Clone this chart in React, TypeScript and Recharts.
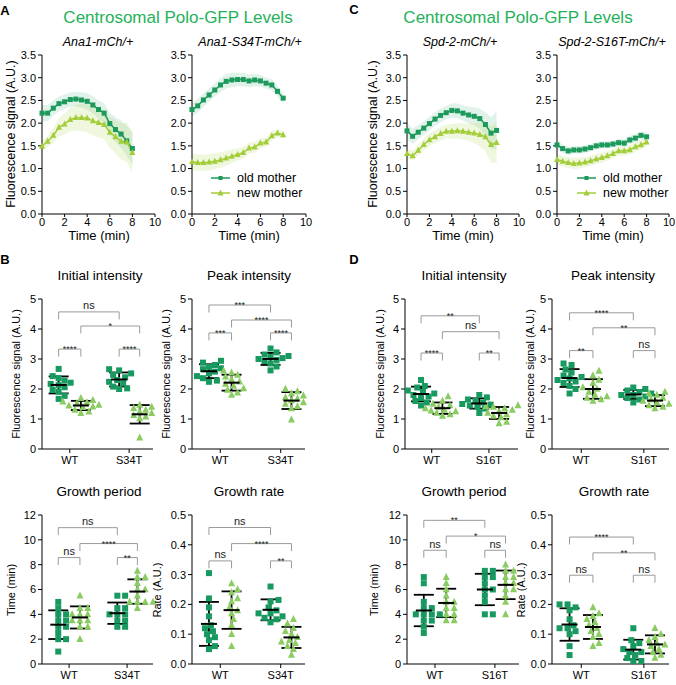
import React from "react";
import {
  ComposedChart,
  Area,
  Line,
  XAxis,
  YAxis,
  ScatterChart,
  Scatter,
  ErrorBar,
  ReferenceLine,
} from "recharts";

const FONT = '"Liberation Sans", Arial, Helvetica, sans-serif';
const OLD_LINE = "#1b9a5b";
const NEW_LINE = "#a3cd39";
const OLD_DOT = "#17995f";
const NEW_DOT = "#8acb62";
const TITLE = "#1fb25a";
const BRACKET = "#9a9a9a";

// time courses (min)
const time = [0, 0.5, 1, 1.5, 2, 2.5, 3, 3.5, 4, 4.5, 5, 5.5, 6, 6.5, 7, 7.5, 8];

const ana1WtOld = [2.22, 2.22, 2.33, 2.43, 2.47, 2.52, 2.53, 2.51, 2.48, 2.4, 2.3, 2.22, 1.99, 1.86, 1.76, 1.61, 1.44];
const ana1WtOldErr = [0.18, 0.18, 0.17, 0.16, 0.16, 0.16, 0.16, 0.17, 0.18, 0.19, 0.2, 0.22, 0.24, 0.27, 0.3, 0.33, 0.36];
const ana1WtNew = [1.49, 1.6, 1.73, 1.91, 1.98, 2.08, 2.12, 2.12, 2.11, 2.05, 2.01, 1.97, 1.8, 1.7, 1.6, 1.58, 1.35];
const ana1WtNewErr = [0.1, 0.12, 0.16, 0.2, 0.23, 0.26, 0.28, 0.3, 0.31, 0.32, 0.32, 0.32, 0.34, 0.37, 0.4, 0.43, 0.45];

const ana1MutOld = [2.3, 2.38, 2.51, 2.62, 2.73, 2.84, 2.92, 2.95, 2.96, 2.96, 2.93, 2.95, 2.93, 2.88, 2.84, 2.7, 2.55];
const ana1MutOldErr = [0.15, 0.15, 0.15, 0.15, 0.15, 0.16, 0.16, 0.16, 0.15, 0.15, 0.14, 0.14, 0.13, 0.12, 0.12, 0.12, 0.12];
const ana1MutNew = [1.15, 1.13, 1.13, 1.14, 1.16, 1.19, 1.23, 1.27, 1.31, 1.35, 1.45, 1.47, 1.56, 1.58, 1.72, 1.78, 1.74];
const ana1MutNewErr = [0.18, 0.18, 0.18, 0.18, 0.17, 0.17, 0.16, 0.15, 0.14, 0.13, 0.12, 0.12, 0.11, 0.1, 0.1, 0.09, 0.08];

const spd2WtOld = [1.83, 1.71, 1.8, 1.89, 1.99, 2.09, 2.17, 2.23, 2.28, 2.27, 2.22, 2.18, 2.15, 2.1, 1.97, 1.78, 1.84];
const spd2WtOldErr = [0.18, 0.17, 0.16, 0.15, 0.15, 0.15, 0.15, 0.15, 0.16, 0.16, 0.17, 0.18, 0.2, 0.22, 0.27, 0.35, 0.42];
const spd2WtNew = [1.33, 1.28, 1.4, 1.53, 1.63, 1.7, 1.77, 1.82, 1.82, 1.83, 1.82, 1.8, 1.78, 1.75, 1.7, 1.53, 1.57];
const spd2WtNewErr = [0.1, 0.11, 0.12, 0.13, 0.14, 0.15, 0.15, 0.15, 0.16, 0.17, 0.18, 0.19, 0.22, 0.26, 0.32, 0.4, 0.45];

const spd2MutOld = [1.52, 1.44, 1.39, 1.41, 1.41, 1.43, 1.46, 1.5, 1.52, 1.52, 1.54, 1.57, 1.56, 1.63, 1.67, 1.73, 1.7];
const spd2MutOldErr = [0.1, 0.09, 0.09, 0.08, 0.08, 0.08, 0.08, 0.08, 0.08, 0.08, 0.08, 0.08, 0.08, 0.09, 0.09, 0.09, 0.1];
const spd2MutNew = [1.2, 1.16, 1.13, 1.11, 1.12, 1.14, 1.17, 1.21, 1.24, 1.28, 1.33, 1.39, 1.39, 1.41, 1.48, 1.52, 1.58];
const spd2MutNewErr = [0.12, 0.12, 0.12, 0.12, 0.12, 0.11, 0.11, 0.11, 0.11, 0.1, 0.1, 0.1, 0.1, 0.1, 0.1, 0.1, 0.1];

// per-embryo measurements: [WT old, WT new, mutant old, mutant new]
const ana1InitWtOld = [2.67, 2.43, 2.36, 2.28, 2.21, 2.17, 2.13, 2.06, 1.97, 1.91, 1.77, 1.67];
const ana1InitWtNew = [1.69, 1.63, 1.58, 1.55, 1.52, 1.47, 1.44, 1.41, 1.39, 1.3, 1.24, 1.19];
const ana1InitMutOld = [2.66, 2.62, 2.52, 2.47, 2.39, 2.3, 2.24, 2.19, 2.08, 2.02, 2.0];
const ana1InitMutNew = [1.47, 1.4, 1.36, 1.3, 1.24, 1.19, 1.13, 1.08, 1.02, 0.38];

const ana1PeakWtOld = [2.94, 2.88, 2.8, 2.74, 2.69, 2.66, 2.58, 2.52, 2.43, 2.36, 2.28, 2.24];
const ana1PeakWtNew = [2.61, 2.54, 2.47, 2.41, 2.32, 2.24, 2.17, 2.1, 2.02, 1.97, 1.88, 1.8];
const ana1PeakMutOld = [3.35, 3.22, 3.15, 3.1, 3.07, 3.03, 3.0, 2.97, 2.93, 2.85, 2.75, 2.62];
const ana1PeakMutNew = [2.0, 1.92, 1.85, 1.78, 1.72, 1.68, 1.62, 1.55, 1.5, 1.42, 1.35, 0.98];

const ana1PeriodWtOld = [5.0, 4.5, 4.0, 4.0, 3.5, 3.5, 3.0, 3.0, 2.5, 2.0, 2.0, 1.0];
const ana1PeriodWtNew = [5.5, 4.5, 4.5, 4.0, 4.0, 4.0, 3.5, 3.5, 3.5, 3.0, 3.0, 2.0];
const ana1PeriodMutOld = [5.5, 5.5, 4.5, 4.5, 4.0, 4.0, 4.0, 3.5, 3.5, 3.0, 3.0];
const ana1PeriodMutNew = [7.5, 7.0, 7.0, 6.5, 6.0, 6.0, 5.5, 5.0, 5.0, 5.0, 5.0, 4.5];

const ana1RateWtOld = [0.305, 0.22, 0.19, 0.16, 0.13, 0.12, 0.11, 0.1, 0.09, 0.08, 0.06, 0.05];
const ana1RateWtNew = [0.27, 0.25, 0.24, 0.22, 0.21, 0.19, 0.18, 0.17, 0.15, 0.13, 0.1, 0.06];
const ana1RateMutOld = [0.26, 0.215, 0.21, 0.19, 0.18, 0.17, 0.17, 0.16, 0.155, 0.15, 0.14];
const ana1RateMutNew = [0.15, 0.135, 0.12, 0.11, 0.1, 0.09, 0.08, 0.075, 0.07, 0.06, 0.05, 0.03];

const spd2InitWtOld = [2.3, 2.1, 2.05, 1.95, 1.9, 1.85, 1.8, 1.75, 1.7, 1.6, 1.55, 1.45];
const spd2InitWtNew = [1.75, 1.6, 1.5, 1.45, 1.4, 1.35, 1.3, 1.28, 1.25, 1.2, 1.15, 1.1];
const spd2InitMutOld = [1.8, 1.72, 1.65, 1.6, 1.55, 1.5, 1.48, 1.45, 1.4, 1.35, 1.2];
const spd2InitMutNew = [1.45, 1.42, 1.4, 1.35, 1.3, 1.25, 1.2, 1.15, 1.1, 1.05, 0.9, 0.85];

const spd2PeakWtOld = [2.85, 2.8, 2.65, 2.55, 2.45, 2.4, 2.35, 2.3, 2.25, 2.2, 2.1, 2.0, 1.85];
const spd2PeakWtNew = [2.6, 2.45, 2.3, 2.2, 2.05, 2.0, 1.9, 1.8, 1.75, 1.7, 1.65, 1.6];
const spd2PeakMutOld = [2.05, 2.0, 1.95, 1.9, 1.85, 1.8, 1.8, 1.75, 1.7, 1.65, 1.55];
const spd2PeakMutNew = [1.9, 1.85, 1.8, 1.7, 1.65, 1.6, 1.55, 1.5, 1.45, 1.4, 1.35];

const spd2PeriodWtOld = [7.0, 6.5, 5.0, 4.5, 4.5, 4.0, 4.0, 4.0, 4.0, 3.5, 3.5, 3.0, 2.5];
const spd2PeriodWtNew = [7.0, 6.5, 6.0, 5.5, 5.0, 5.0, 4.5, 4.5, 4.0, 4.0, 3.5, 3.5];
const spd2PeriodMutOld = [7.5, 7.5, 7.0, 7.0, 6.5, 6.0, 6.0, 5.5, 5.0, 4.0, 4.0];
const spd2PeriodMutNew = [8.0, 7.5, 7.5, 7.0, 7.0, 6.5, 6.5, 6.0, 6.0, 5.5, 5.0, 4.0];

const spd2RateWtOld = [0.2, 0.2, 0.19, 0.18, 0.15, 0.13, 0.12, 0.12, 0.11, 0.1, 0.06, 0.03];
const spd2RateWtNew = [0.19, 0.17, 0.16, 0.15, 0.14, 0.13, 0.12, 0.11, 0.1, 0.09, 0.07, 0.06];
const spd2RateMutOld = [0.12, 0.08, 0.07, 0.06, 0.05, 0.04, 0.04, 0.03, 0.02, 0.01, 0.01];
const spd2RateMutNew = [0.12, 0.1, 0.09, 0.08, 0.07, 0.065, 0.06, 0.05, 0.04, 0.03, 0.02];

// significance brackets: [group a, group b, height, label]
type Bracket = [number, number, number, string];
const ana1InitSig: Bracket[] = [[0, 2, 4.57, "ns"], [1, 3, 4.1, "*"], [0, 1, 3.33, "****"], [2, 3, 3.33, "****"]];
const ana1PeakSig: Bracket[] = [[0, 2, 4.8, "***"], [1, 3, 4.3, "****"], [0, 1, 3.87, "***"], [2, 3, 3.87, "****"]];
const ana1PeriodSig: Bracket[] = [[0, 2, 10.98, "ns"], [1, 3, 9.7, "****"], [0, 1, 8.57, "ns"], [2, 3, 8.57, "**"]];
const ana1RateSig: Bracket[] = [[0, 2, 0.458, "ns"], [1, 3, 0.404, "****"], [0, 1, 0.346, "ns"], [2, 3, 0.346, "**"]];
const spd2InitSig: Bracket[] = [[0, 2, 4.44, "**"], [1, 3, 3.91, "ns"], [0, 1, 3.2, "****"], [2, 3, 3.2, "**"]];
const spd2PeakSig: Bracket[] = [[0, 2, 4.54, "****"], [1, 3, 4.04, "**"], [0, 1, 3.28, "**"], [2, 3, 3.28, "ns"]];
const spd2PeriodSig: Bracket[] = [[0, 2, 11.57, "**"], [1, 3, 10.3, "*"], [0, 1, 9.16, "ns"], [2, 3, 9.16, "ns"]];
const spd2RateSig: Bracket[] = [[0, 2, 0.426, "****"], [1, 3, 0.373, "**"], [0, 1, 0.298, "ns"], [2, 3, 0.298, "ns"]];

const traceTicks = [0, 0.5, 1, 1.5, 2, 2.5, 3, 3.5];
const intensityTicks = [0, 1, 2, 3, 4, 5];
const periodTicks = [0, 2, 4, 6, 8, 10, 12];
const rateTicks = [0, 0.1, 0.2, 0.3, 0.4, 0.5];

const GROUP_POS = [1.5, 3.5, 6.95, 8.8];
const CAT_POS = [2.5, 7.85];

const tickStyle = { fontSize: 11, fill: "#000", fontFamily: FONT };

function squareDot(color: string, s: number) {
  return (p: any) => (
    <rect key={`s${p.index}`} x={p.cx - s / 2} y={p.cy - s / 2} width={s} height={s} fill={color} />
  );
}

function triangleDot(color: string, s: number) {
  return (p: any) => (
    <polygon
      key={`t${p.index}`}
      points={`${p.cx},${p.cy - s * 0.6} ${p.cx - s / 2},${p.cy + s * 0.4} ${p.cx + s / 2},${p.cy + s * 0.4}`}
      fill={color}
    />
  );
}

interface TraceProps {
  left: number;
  right: number;
  old: number[];
  oldErr: number[];
  young: number[];
  youngErr: number[];
}

function Trace({ left, right, old, oldErr, young, youngErr }: TraceProps) {
  const top = 55;
  const bottom = 214;
  const ml = 38, mt = 8, mr = 10, xh = 24;
  const data = time.map((t, i) => ({
    t,
    old: old[i],
    oldBand: [old[i] - oldErr[i], old[i] + oldErr[i]],
    young: young[i],
    youngBand: [young[i] - youngErr[i], young[i] + youngErr[i]],
  }));
  return (
    <div style={{ position: "absolute", left: left - ml, top: top - mt }}>
      <ComposedChart
        width={right - left + ml + mr}
        height={bottom - top + mt + xh}
        data={data}
        margin={{ top: mt, right: mr, left: 0, bottom: 0 }}
      >
        <XAxis
          dataKey="t"
          type="number"
          domain={[0, 10]}
          ticks={[0, 2, 4, 6, 8, 10]}
          height={xh}
          axisLine={{ stroke: "#000" }}
          tickLine={{ stroke: "#000" }}
          tickSize={3}
          tickMargin={1}
          tick={tickStyle}
        />
        <YAxis
          type="number"
          domain={[0, 3.5]}
          ticks={traceTicks}
          width={ml}
          axisLine={{ stroke: "#000" }}
          tickLine={{ stroke: "#000" }}
          tickSize={4}
          tickMargin={2}
          tick={tickStyle}
          tickFormatter={(v: number) => v.toFixed(1)}
        />
        <Area type="linear" dataKey="oldBand" stroke="none" fill={OLD_LINE} fillOpacity={0.13} isAnimationActive={false} />
        <Area type="linear" dataKey="youngBand" stroke="none" fill={NEW_LINE} fillOpacity={0.17} isAnimationActive={false} />
        <Line type="linear" dataKey="old" stroke={OLD_LINE} strokeWidth={1.5} dot={squareDot(OLD_LINE, 5)} isAnimationActive={false} />
        <Line type="linear" dataKey="young" stroke={NEW_LINE} strokeWidth={1.5} dot={triangleDot(NEW_LINE, 6)} isAnimationActive={false} />
      </ComposedChart>
    </div>
  );
}

function swarm(vals: number[], center: number, pxX: number, pxY: number) {
  const order = vals.map((_, i) => i).sort((a, b) => vals[a] - vals[b]);
  const placed: { x: number; y: number }[] = [];
  const out: { x: number; y: number }[] = new Array(vals.length);
  const gap = 6.2;
  for (const i of order) {
    const y = vals[i];
    let chosen = 0;
    for (let k = 0; k < 40; k++) {
      const off = (k % 2 === 1 ? 1 : -1) * Math.ceil(k / 2) * 2;
      const ok = placed.every(
        (p) => Math.hypot(center * pxX + off - p.x, (y - p.y) * pxY) >= gap,
      );
      if (ok) {
        chosen = off;
        break;
      }
    }
    placed.push({ x: center * pxX + chosen, y });
    out[i] = { x: center + chosen / pxX, y };
  }
  return out;
}

function meanSd(vals: number[]) {
  const m = vals.reduce((a, b) => a + b, 0) / vals.length;
  const v = vals.reduce((a, b) => a + (b - m) * (b - m), 0) / (vals.length - 1);
  return { m, sd: Math.sqrt(v) };
}

function sigLabel(text: string) {
  const stars = text !== "ns";
  return (props: any) => {
    const vb = props.viewBox || {};
    const cx = (vb.x || 0) + (vb.width || 0) / 2;
    return (
      <text
        x={cx}
        y={(vb.y || 0) + (stars ? 3 : -2.5)}
        textAnchor="middle"
        fontSize={stars ? 9 : 11}
        fontFamily={FONT}
        fill="#222"
      >
        {text}
      </text>
    );
  };
}

interface DotPlotProps {
  left: number;
  right: number;
  top: number;
  bottom: number;
  yMax: number;
  yTicks: number[];
  decimals: number;
  cats: string[];
  groups: number[][];
  sig: Bracket[];
}

function DotPlot({ left, right, top, bottom, yMax, yTicks, decimals, cats, groups, sig }: DotPlotProps) {
  const ml = 34, mt = 6, mr = 4, xh = 24;
  const pxX = (right - left) / 10;
  const pxY = (bottom - top) / yMax;
  const leg = yMax * 0.05;
  return (
    <div style={{ position: "absolute", left: left - ml, top: top - mt }}>
      <ScatterChart
        width={right - left + ml + mr}
        height={bottom - top + mt + xh}
        margin={{ top: mt, right: mr, left: 0, bottom: 0 }}
      >
        <XAxis
          dataKey="x"
          type="number"
          domain={[0, 10]}
          ticks={CAT_POS}
          height={xh}
          axisLine={{ stroke: "#000" }}
          tickLine={{ stroke: "#000" }}
          tickSize={4}
          tickMargin={3}
          tick={tickStyle}
          tickFormatter={(v: number) => (v < 5 ? cats[0] : cats[1])}
        />
        <YAxis
          dataKey="y"
          type="number"
          domain={[0, yMax]}
          ticks={yTicks}
          width={ml}
          axisLine={{ stroke: "#000" }}
          tickLine={{ stroke: "#000" }}
          tickSize={4}
          tickMargin={2}
          tick={tickStyle}
          tickFormatter={(v: number) => v.toFixed(decimals)}
        />
        {sig.map(([a, b, y, label], i) => (
          <React.Fragment key={`b${i}`}>
            <ReferenceLine segment={[{ x: GROUP_POS[a], y: y - leg }, { x: GROUP_POS[a], y }]} stroke={BRACKET} />
            <ReferenceLine
              segment={[{ x: GROUP_POS[a], y }, { x: GROUP_POS[b], y }]}
              stroke={BRACKET}
              label={sigLabel(label)}
            />
            <ReferenceLine segment={[{ x: GROUP_POS[b], y }, { x: GROUP_POS[b], y: y - leg }]} stroke={BRACKET} />
          </React.Fragment>
        ))}
        {groups.map((vals, gi) => (
          <Scatter
            key={`g${gi}`}
            data={swarm(vals, GROUP_POS[gi], pxX, pxY)}
            shape={gi % 2 === 0 ? squareDot(OLD_DOT, 6) : triangleDot(NEW_DOT, 7)}
            isAnimationActive={false}
          />
        ))}
        {groups.map((vals, gi) => {
          const { m, sd } = meanSd(vals);
          return (
            <Scatter
              key={`m${gi}`}
              data={[{ x: GROUP_POS[gi], y: m, sd }]}
              shape={(p: any) => (
                <line x1={p.cx - 8} x2={p.cx + 8} y1={p.cy} y2={p.cy} stroke="#000" strokeWidth={2} />
              )}
              isAnimationActive={false}
            >
              <ErrorBar dataKey="sd" direction="y" width={10} stroke="#000" strokeWidth={1.8} />
            </Scatter>
          );
        })}
      </ScatterChart>
    </div>
  );
}

function Txt({
  x,
  y,
  size,
  children,
  rotate,
  bold,
  italic,
  color,
}: {
  x: number;
  y: number;
  size: number;
  children: React.ReactNode;
  rotate?: boolean;
  bold?: boolean;
  italic?: boolean;
  color?: string;
}) {
  return (
    <div
      style={{
        position: "absolute",
        left: x,
        top: y,
        transform: `translate(-50%, -50%)${rotate ? " rotate(-90deg)" : ""}`,
        whiteSpace: "nowrap",
        fontSize: size,
        fontFamily: FONT,
        fontWeight: bold ? 700 : 400,
        fontStyle: italic ? "italic" : "normal",
        color: color || "#000",
        lineHeight: 1,
      }}
    >
      {children}
    </div>
  );
}

function LegendBox({ x, y }: { x: number; y: number }) {
  const row = (color: string, label: string, tri: boolean, dy: number) => (
    <div
      style={{
        position: "absolute",
        left: 0,
        top: dy,
        display: "flex",
        alignItems: "center",
        whiteSpace: "nowrap",
        width: 110,
      }}
    >
      <svg width={24} height={10}>
        <line x1={1} x2={20} y1={5} y2={5} stroke={color} strokeWidth={1.5} />
        {tri ? (
          <polygon points="10.5,1.5 7.5,7.5 13.5,7.5" fill={color} />
        ) : (
          <rect x={8.5} y={3} width={4} height={4} fill={color} />
        )}
      </svg>
      <span style={{ marginLeft: 3, fontSize: 12.5, fontFamily: FONT, lineHeight: 1 }}>{label}</span>
    </div>
  );
  return (
    <div style={{ position: "absolute", left: x, top: y }}>
      {row(OLD_LINE, "old mother", false, 0)}
      {row(NEW_LINE, "new mother", true, 15)}
    </div>
  );
}

export default function App() {
  const bigTop = 299, bigBottom = 449;
  const lowTop = 515, lowBottom = 664;
  return (
    <div style={{ position: "relative", width: 676, height: 685, background: "#fff", overflow: "hidden" }}>
      <style>{"body{margin:0}"}</style>

      <Txt x={5} y={10} size={13} bold>A</Txt>
      <Txt x={5} y={259} size={13} bold>B</Txt>
      <Txt x={354} y={9} size={13} bold>C</Txt>
      <Txt x={354} y={259} size={13} bold>D</Txt>

      <Txt x={178} y={17} size={17} color={TITLE}>Centrosomal Polo-GFP Levels</Txt>
      <Txt x={518} y={17} size={17} color={TITLE}>Centrosomal Polo-GFP Levels</Txt>

      <Txt x={98} y={42} size={12.5} italic>Ana1-mCh/+</Txt>
      <Txt x={250} y={42} size={12.5} italic>Ana1-S34T-mCh/+</Txt>
      <Txt x={460} y={42} size={12.5} italic>Spd-2-mCh/+</Txt>
      <Txt x={612} y={42} size={12.5} italic>Spd-2-S16T-mCh/+</Txt>

      <Txt x={11} y={134} size={12.5} rotate>Fluorescence signal (A.U.)</Txt>
      <Txt x={373} y={134} size={12.5} rotate>Fluorescence signal (A.U.)</Txt>

      <Trace left={42} right={155} old={ana1WtOld} oldErr={ana1WtOldErr} young={ana1WtNew} youngErr={ana1WtNewErr} />
      <Trace left={192} right={306} old={ana1MutOld} oldErr={ana1MutOldErr} young={ana1MutNew} youngErr={ana1MutNewErr} />
      <Trace left={407} right={519} old={spd2WtOld} oldErr={spd2WtOldErr} young={spd2WtNew} youngErr={spd2WtNewErr} />
      <Trace left={557} right={669} old={spd2MutOld} oldErr={spd2MutOldErr} young={spd2MutNew} youngErr={spd2MutNewErr} />

      <LegendBox x={210} y={172} />
      <LegendBox x={576} y={172} />

      <Txt x={99} y={235} size={13}>Time (min)</Txt>
      <Txt x={249} y={235} size={13}>Time (min)</Txt>
      <Txt x={463} y={235} size={13}>Time (min)</Txt>
      <Txt x={613} y={235} size={13}>Time (min)</Txt>

      <Txt x={100} y={276} size={13.5}>Initial intensity</Txt>
      <Txt x={249} y={276} size={13.5}>Peak intensity</Txt>
      <Txt x={464} y={276} size={13.5}>Initial intensity</Txt>
      <Txt x={613} y={276} size={13.5}>Peak intensity</Txt>
      <Txt x={99} y={492} size={13.5}>Growth period</Txt>
      <Txt x={249} y={492} size={13.5}>Growth rate</Txt>
      <Txt x={464} y={492} size={13.5}>Growth period</Txt>
      <Txt x={614} y={492} size={13.5}>Growth rate</Txt>

      <Txt x={16} y={374} size={11} rotate>Fluorescence signal (A.U.)</Txt>
      <Txt x={166} y={374} size={11} rotate>Fluorescence signal (A.U.)</Txt>
      <Txt x={380} y={374} size={11} rotate>Fluorescence signal (A.U.)</Txt>
      <Txt x={530} y={374} size={11} rotate>Fluorescence signal (A.U.)</Txt>
      <Txt x={11} y={590} size={11} rotate>Time (min)</Txt>
      <Txt x={157} y={590} size={11} rotate>Rate (A.U.)</Txt>
      <Txt x={374} y={590} size={11} rotate>Time (min)</Txt>
      <Txt x={521} y={590} size={11} rotate>Rate (A.U.)</Txt>

      <DotPlot left={42} right={153} top={bigTop} bottom={bigBottom} yMax={5} yTicks={intensityTicks} decimals={0}
        cats={["WT", "S34T"]} groups={[ana1InitWtOld, ana1InitWtNew, ana1InitMutOld, ana1InitMutNew]} sig={ana1InitSig} />
      <DotPlot left={192} right={305} top={bigTop} bottom={bigBottom} yMax={5} yTicks={intensityTicks} decimals={0}
        cats={["WT", "S34T"]} groups={[ana1PeakWtOld, ana1PeakWtNew, ana1PeakMutOld, ana1PeakMutNew]} sig={ana1PeakSig} />
      <DotPlot left={405} right={518} top={bigTop} bottom={bigBottom} yMax={5} yTicks={intensityTicks} decimals={0}
        cats={["WT", "S16T"]} groups={[spd2InitWtOld, spd2InitWtNew, spd2InitMutOld, spd2InitMutNew]} sig={spd2InitSig} />
      <DotPlot left={552} right={669} top={bigTop} bottom={bigBottom} yMax={5} yTicks={intensityTicks} decimals={0}
        cats={["WT", "S16T"]} groups={[spd2PeakWtOld, spd2PeakWtNew, spd2PeakMutOld, spd2PeakMutNew]} sig={spd2PeakSig} />

      <DotPlot left={42} right={153} top={lowTop} bottom={lowBottom} yMax={12} yTicks={periodTicks} decimals={0}
        cats={["WT", "S34T"]} groups={[ana1PeriodWtOld, ana1PeriodWtNew, ana1PeriodMutOld, ana1PeriodMutNew]} sig={ana1PeriodSig} />
      <DotPlot left={192} right={305} top={lowTop} bottom={lowBottom} yMax={0.5} yTicks={rateTicks} decimals={1}
        cats={["WT", "S34T"]} groups={[ana1RateWtOld, ana1RateWtNew, ana1RateMutOld, ana1RateMutNew]} sig={ana1RateSig} />
      <DotPlot left={407} right={519} top={lowTop} bottom={lowBottom} yMax={12} yTicks={periodTicks} decimals={0}
        cats={["WT", "S16T"]} groups={[spd2PeriodWtOld, spd2PeriodWtNew, spd2PeriodMutOld, spd2PeriodMutNew]} sig={spd2PeriodSig} />
      <DotPlot left={552} right={669} top={lowTop} bottom={lowBottom} yMax={0.5} yTicks={rateTicks} decimals={1}
        cats={["WT", "S16T"]} groups={[spd2RateWtOld, spd2RateWtNew, spd2RateMutOld, spd2RateMutNew]} sig={spd2RateSig} />
    </div>
  );
}
